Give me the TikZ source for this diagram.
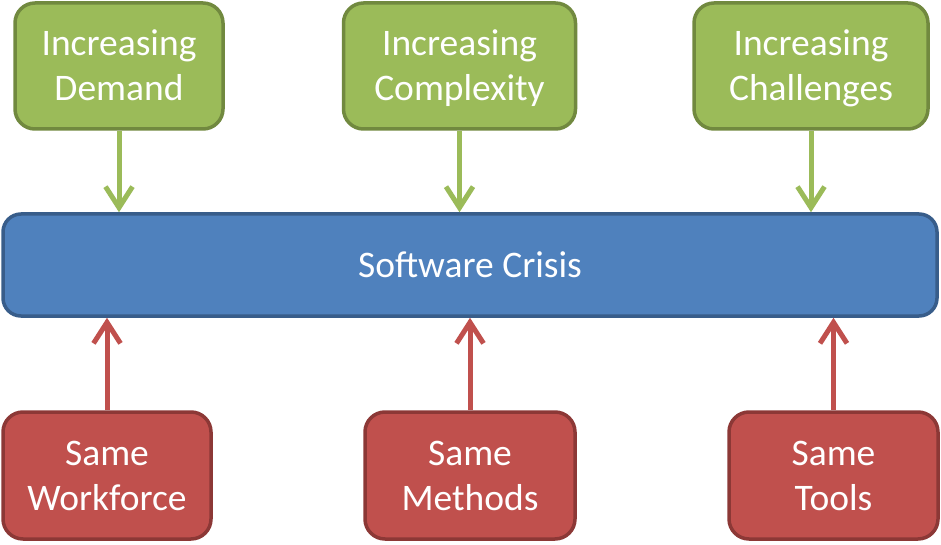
\documentclass[tikz,border=0pt]{standalone}
\usepackage{fontspec}
\setmainfont{Carlito}
\usetikzlibrary{arrows.meta, positioning}
\definecolor{CGreen}{HTML}{9BBB59}
\definecolor{CGreenDark}{HTML}{71893F}
\definecolor{CBlue}{HTML}{4F81BD}
\definecolor{CBlueDark}{HTML}{385D8A}
\definecolor{CRed}{HTML}{C0504D}
\definecolor{CRedDark}{HTML}{8C3836}
\newcommand{\twoLines}[2]{%
    % fixed first-line height and last-line depth, so all boxes sit alike
    \rule{0pt}{38pt}#1\\#2\strut
}

\begin{document}
\begin{tikzpicture}[x=1pt, y=-1pt,
    box/.style={rounded corners=20pt, line width=3.5pt, text=white, align=center,
        inner sep=0pt, font=\fontsize{37.5}{45}\selectfont},
    pushbox/.style={box, fill=CGreen, draw=CGreenDark, minimum width=232pt, minimum height=126pt},
    holdbox/.style={box, fill=CRed, draw=CRedDark, minimum width=209pt, minimum height=127pt},
    crisisbox/.style={box, rounded corners=18pt, fill=CBlue, draw=CBlueDark,
        minimum width=934pt, minimum height=102pt},
    push/.style={CGreen, line width=5pt, -{Straight Barb[length=21pt, width=27pt]}},
    hold/.style={CRed, line width=5pt, -{Straight Barb[length=21pt, width=27pt]}}
]
    \useasboundingbox (0,0) rectangle (941,545);

    % --- 1. CENTRAL BAR ---
    \node[crisisbox] (crisis) at (470,265) {Software Crisis};

    % --- 2. DRIVERS (top) ---
    \node[pushbox, minimum width=208pt] (demand) at (119,66) {\twoLines{Increasing}{Demand}};
    \node[pushbox] (complexity) at (459.5,66) {\twoLines{Increasing}{Complexity}};
    \node[pushbox, minimum width=234pt] (challenges) at (811,66) {\twoLines{Increasing}{Challenges}};

    % --- 3. CONSTANTS (bottom) ---
    \node[holdbox, minimum width=208pt] (workforce) at (107,475.5) {\twoLines{Same}{Workforce}};
    \node[holdbox, minimum width=210pt] (methods) at (470,475.5) {\twoLines{Same}{Methods}};
    \node[holdbox] (tools) at (833.5,475.5) {\twoLines{Same}{Tools}};

    % --- 4. ARROWS ---
    \foreach \src in {demand, complexity, challenges} {
        \draw[push] (\src.south) -- (\src.south |- crisis.north);
    }
    \foreach \src in {workforce, methods, tools} {
        \draw[hold] (\src.north) -- (\src.north |- crisis.south);
    }

\end{tikzpicture}
\end{document}
